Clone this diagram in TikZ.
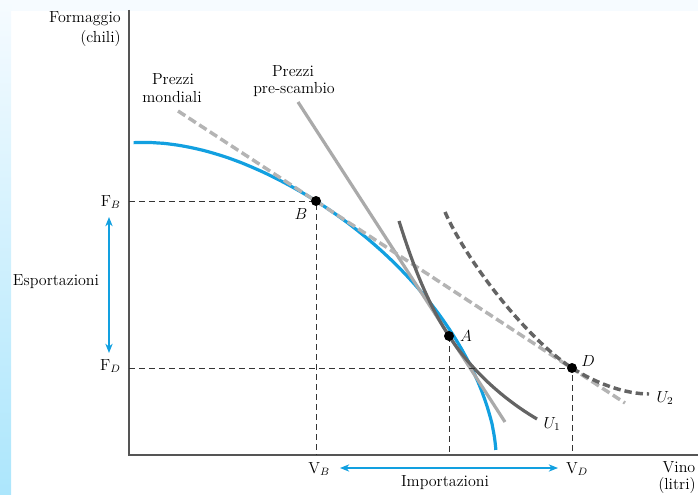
\documentclass[tikz,border=0pt]{standalone}
\usetikzlibrary{arrows.meta}
\definecolor{ppfblue}{RGB}{18,160,224}
\definecolor{lightg}{RGB}{180,180,180}
\definecolor{preg}{RGB}{170,170,170}
\definecolor{darkg}{RGB}{100,100,100}
\definecolor{axisg}{RGB}{85,85,85}
\definecolor{bgtop}{RGB}{246,251,255}
\definecolor{bgbot}{RGB}{172,230,252}
\tikzset{
  axisline/.style={axisg, line width=1.3pt},
  guide/.style={black!80, line width=0.7pt, dash pattern=on 4.5pt off 3pt},
  ppf/.style={ppfblue, line width=2.4pt},
  worldline/.style={lightg, line width=2.6pt, dash pattern=on 6.5pt off 3pt},
  preline/.style={preg, line width=2.4pt},
  ucurve/.style={darkg, line width=2.4pt},
  ucurvedash/.style={darkg, line width=2.6pt, dash pattern=on 5.5pt off 3pt},
  dot/.style={circle, fill=black, inner sep=0pt, minimum size=7.5pt},
  bluearrow/.style={ppfblue, line width=0.9pt, {Stealth[length=7pt,width=5.5pt]}-{Stealth[length=7pt,width=5.5pt]}},
  lbl/.style={inner sep=0pt, align=center},
}
\begin{document}
\begin{tikzpicture}[x=0.75pt, y=-0.75pt, font=\fontsize{12}{14}\selectfont]
\useasboundingbox (0,0) rectangle (698,495);
% background strips
\fill[bgtop] (0,0) rectangle (698,11);
\shade[top color=bgtop, bottom color=bgbot] (0,0) rectangle (11,495);

% key points
\coordinate (O) at (129,455);
\coordinate (B) at (316,201);
\coordinate (A) at (449,336);
\coordinate (D) at (572,368);
\coordinate (yTop) at (129,10);
\coordinate (xEnd) at (698,455);
\coordinate (FB) at (129,201);
\coordinate (FD) at (129,368);
\coordinate (VB) at (316,455);
\coordinate (VA) at (449,455);
\coordinate (VD) at (572,455);

% axes
\draw[axisline] (yTop) -- (O) -- (xEnd);

% production possibility frontier
\draw[ppf] plot[domain=1.7:88.6, samples=100, variable=\t, smooth]
  ({129+367*pow(cos(\t),1.1765)},
   {455-318*pow(sin(\t),1.1765)+6*pow(max(0,1-367*pow(cos(\t),1.1765)/120),2)});

% pre-trade price line
\coordinate (pre1) at (298,102);
\coordinate (pre2) at (505,422);
\draw[preline] (pre1) -- (pre2);

% world price line
\coordinate (wm1) at (178,111);
\coordinate (wm2) at (625,403);
\draw[worldline] (wm1) -- (wm2);

% indifference curves
\coordinate (u1s) at (399,221);
\coordinate (u1e) at (537,419);
\draw[ucurve] (u1s) .. controls (411,259) and (426,301) .. (A)
  .. controls (471,370) and (503,399) .. (u1e);
\coordinate (u2s) at (445,212);
\coordinate (u2e) at (649,394);
\draw[ucurvedash] (u2s) .. controls (467,262) and (527,339) .. (D)
  .. controls (597,384) and (626,394) .. (u2e);

% guide lines
\draw[guide] (FB) -- (B) -- (VB);
\draw[guide] (FD) -- (D) -- (VD);
\draw[guide] (A) -- (VA);

% points
\node[dot] (nB) at (B) {};
\node[dot] (nA) at (A) {};
\node[dot] (nD) at (D) {};
\node[lbl] (lB) at (301,214) {$B$};
\node[lbl] (lA) at (466,336) {$A$};
\node[lbl] (lD) at (588,361) {$D$};
\node[lbl] (lU1) at (552,424) {$U_1$};
\node[lbl] (lU2) at (665,398) {$U_2$};

% axis labels
\node[lbl, anchor=east] (ylab1) at (121,19) {Formaggio};
\node[lbl, anchor=east] (ylab2) at (121,39) {(chili)};
\node[lbl] (xlab1) at (679,467) {Vino};
\node[lbl] (xlab2) at (677,486) {(litri)};
\node[lbl] (pm1) at (173,79) {Prezzi};
\node[lbl] (pm2) at (172,97) {mondiali};
\node[lbl] (ps1) at (293,71) {Prezzi};
\node[lbl] (ps2) at (294,90) {pre-scambio};

\node[lbl, anchor=east] (tFB) at (121,202) {F$_{B}$};
\node[lbl, anchor=east] (tFD) at (121,366) {F$_{D}$};
\node[lbl] (tVB) at (319,469) {V$_{B}$};
\node[lbl] (tVD) at (577,469) {V$_{D}$};

\node[lbl] (esp) at (56,282) {Esportazioni};
\node[lbl] (imp) at (445,483) {Importazioni};

% arrows
\coordinate (ea1) at (109,217);
\coordinate (ea2) at (109,353);
\draw[bluearrow] (ea1) -- (ea2);
\coordinate (ia1) at (340,468);
\coordinate (ia2) at (558,468);
\draw[bluearrow] (ia1) -- (ia2);
\end{tikzpicture}
\end{document}
